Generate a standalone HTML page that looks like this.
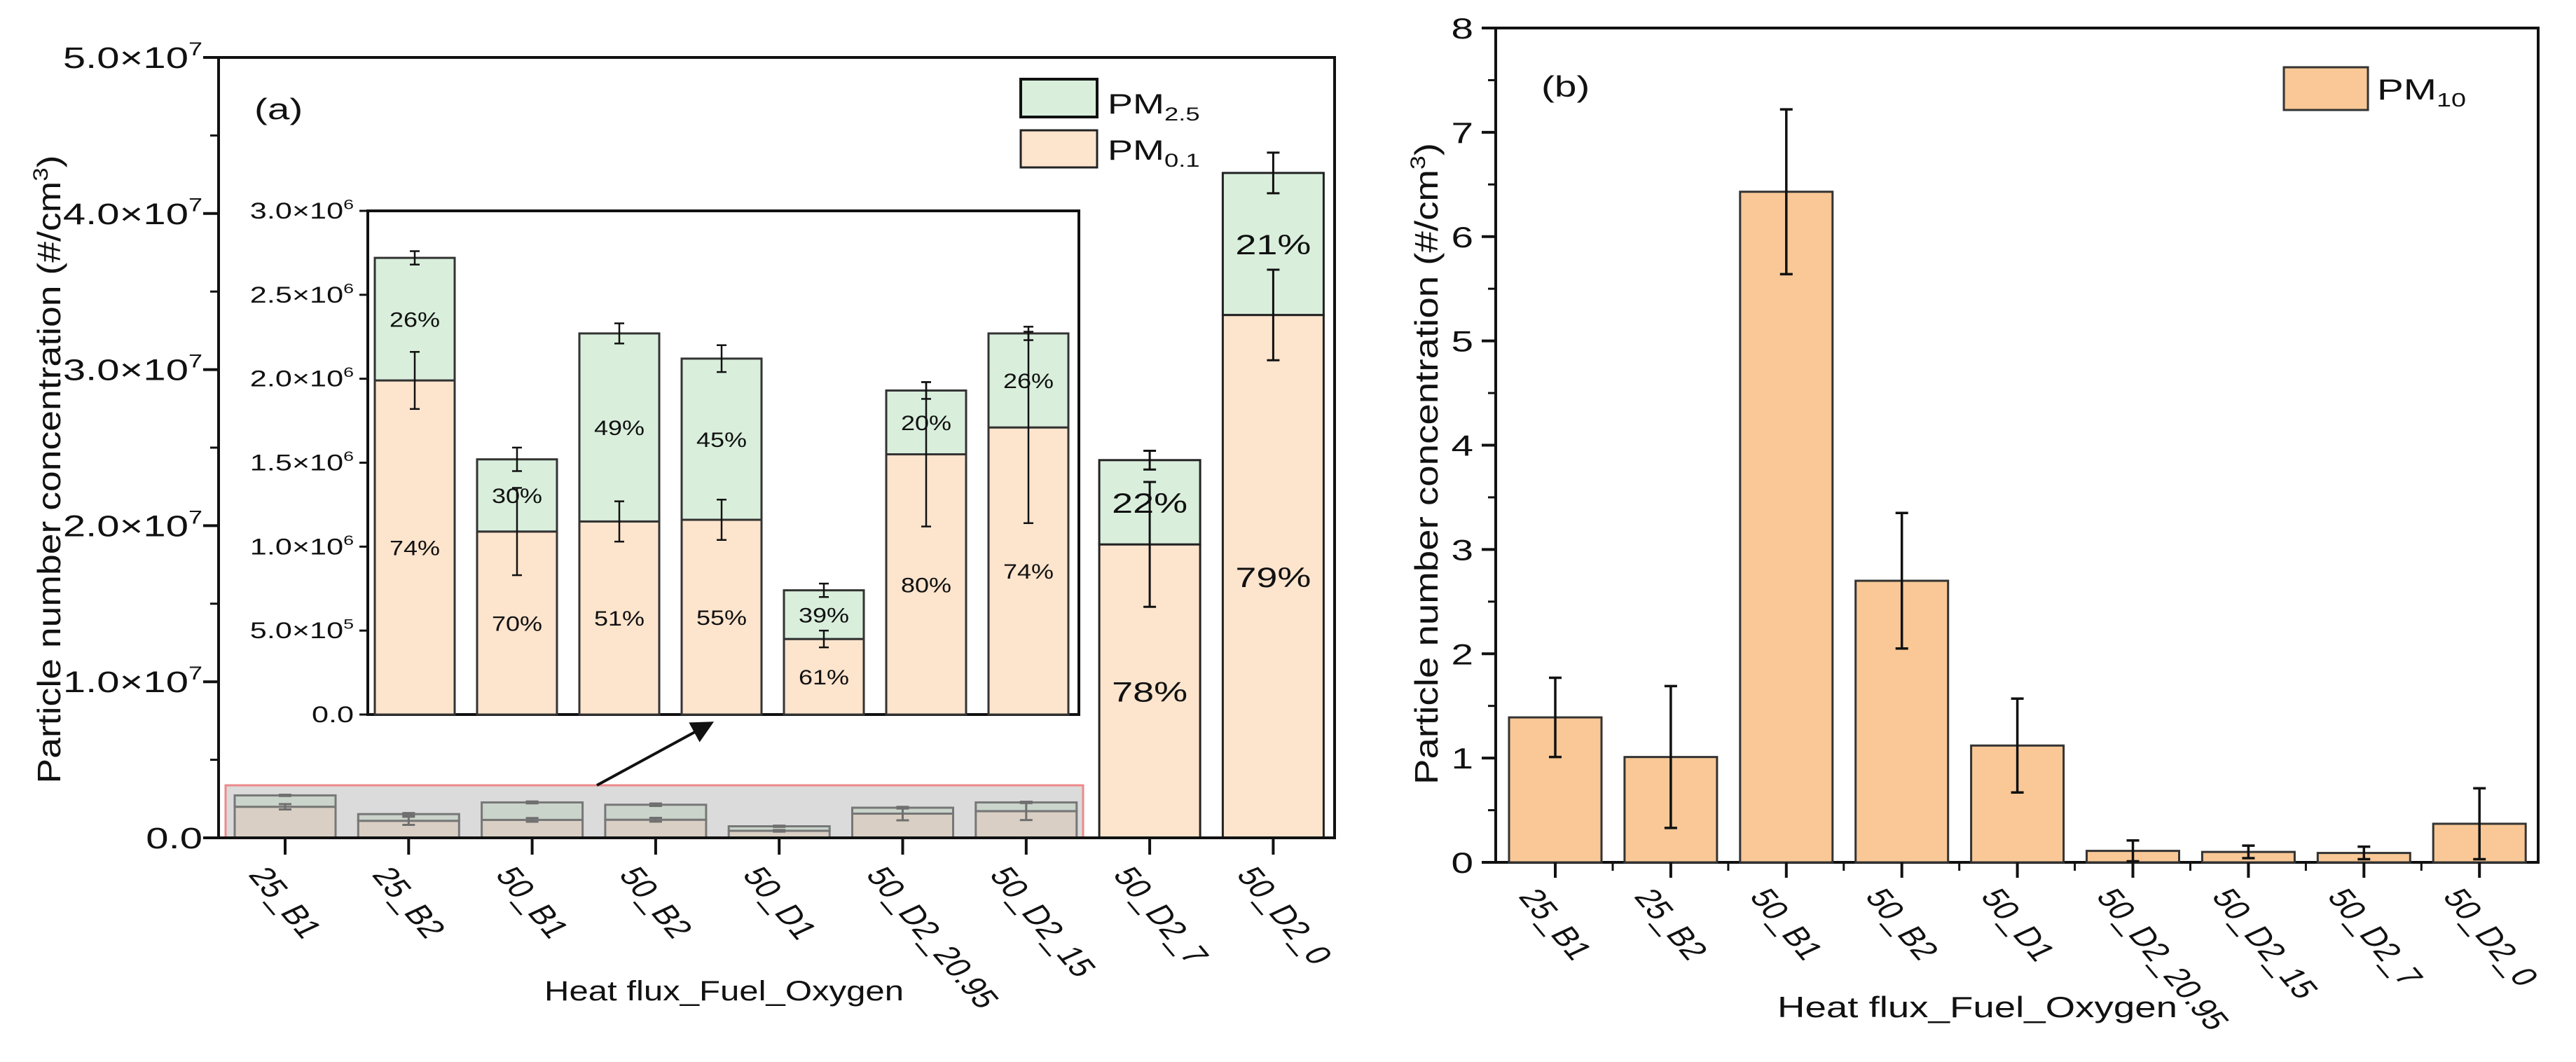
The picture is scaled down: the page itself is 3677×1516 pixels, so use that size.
<!DOCTYPE html>
<html><head><meta charset="utf-8"><style>
html,body{margin:0;padding:0;background:#fff;}
svg text{font-family:"Liberation Sans",Arial,sans-serif;fill:#111;}
</style></head><body>
<svg id="chart" xmlns="http://www.w3.org/2000/svg" width="3677" height="1511" viewBox="0 0 3677 1511">
<defs><marker id="ah" markerWidth="8" markerHeight="8" refX="6" refY="4" orient="auto"><path d="M0,0 L8,4 L0,8 z" fill="#111"/></marker></defs>
<g id="left"></g>
<g id="right"></g>
</svg>
<script>
// ---- Panel (a) main data (units 1e7 #/cm3)
const catsA = ["25_B1","25_B2","50_B1","50_B2","50_D1","50_D2_20.95","50_D2_15","50_D2_7","50_D2_0"];
const pm01A = [0.199,0.109,0.115,0.116,0.045,0.155,0.171,1.88,3.35];
const totalA = [0.272,0.152,0.227,0.212,0.074,0.193,0.227,2.42,4.26];
const pm01ErrA = [0.017,0.026,0.012,0.012,0.005,0.043,0.057,0.40,0.29];
const totalErrA = [0.004,0.007,0.006,0.008,0.004,0.005,0.004,0.06,0.13];
const pctGreenA = ["","","","","","","","22%","21%"];
const pctOrangeA = ["","","","","","","","78%","79%"];
const yTicksA = ["0.0","1.0","2.0","3.0","4.0","5.0"];
// ---- Inset data (units 1e6)
const catsI = ["25_B1","25_B2","50_B1","50_B2","50_D1","50_D2_20.95","50_D2_15"];
const pm01I = [1.99,1.09,1.15,1.16,0.45,1.55,1.71];
const totalI = [2.72,1.52,2.27,2.12,0.74,1.93,2.27];
const pm01ErrI = [0.17,0.26,0.12,0.12,0.05,0.43,0.57];
const totalErrI = [0.04,0.07,0.06,0.08,0.04,0.05,0.04];
const pctGreenI = ["26%","30%","49%","45%","39%","20%","26%"];
const pctOrangeI = ["74%","70%","51%","55%","61%","80%","74%"];
const yTickValsI = [0,0.5,1.0,1.5,2.0,2.5,3.0];
const yTickLabelsI = [["0.0",""],["5.0","5"],["1.0","6"],["1.5","6"],["2.0","6"],["2.5","6"],["3.0","6"]];
// ---- Panel (b) data
const catsB = ["25_B1","25_B2","50_B1","50_B2","50_D1","50_D2_20.95","50_D2_15","50_D2_7","50_D2_0"];
const pm10B = [1.39,1.01,6.43,2.70,1.12,0.11,0.10,0.09,0.37];
const pm10ErrB = [0.38,0.68,0.79,0.65,0.45,0.10,0.06,0.06,0.34];
const yTicksB = [0,1,2,3,4,5,6,7,8];

const NS="http://www.w3.org/2000/svg";
const SX=1.35;
function mk(parent,tag,attrs){const e=document.createElementNS(NS,tag);for(const k in attrs)e.setAttribute(k,attrs[k]);parent.appendChild(e);return e;}
function txt(parent,x,y,s,size,anchor,rot,sx){
  const t=mk(parent,"text",{transform:`translate(${x},${y}) scale(${sx||SX},1) rotate(${rot||0})`,"font-size":size,"text-anchor":anchor||"start"});
  t.textContent=s;return t;
}
function sci(parent,x,y,m,e,size,anchor){
  const t=mk(parent,"text",{transform:`translate(${x},${y}) scale(${SX},1)`,"font-size":size,"text-anchor":anchor});
  t.appendChild(document.createTextNode(m+(e?"\u00d710":"")));
  if(e){const s=mk(t,"tspan",{"font-size":size*0.62,dy:-size*0.42});s.textContent=e;}
  return t;
}
function errbar(g,x,y1,y2,cap,w){
  mk(g,"line",{x1:x,x2:x,y1:y1,y2:y2,stroke:"#111","stroke-width":w});
  mk(g,"line",{x1:x-cap,x2:x+cap,y1:y1,y2:y1,stroke:"#111","stroke-width":w});
  mk(g,"line",{x1:x-cap,x2:x+cap,y1:y2,y2:y2,stroke:"#111","stroke-width":w});
}
const GREEN="#d9efdc", ORANGE="#fde4cd";
const ROT=58;

// ===== Panel A
const L=document.getElementById("left");
const ax0=312, ax1=1905, ayTop=82, ayBot=1196;
const yA=v=>ayBot-v*(ayBot-ayTop)/5;
const xA=i=>407+i*176.3;
const bwA=144;
mk(L,"rect",{x:ax0,y:ayTop,width:ax1-ax0,height:ayBot-ayTop,fill:"none",stroke:"#111","stroke-width":4});
catsA.forEach((c,i)=>{
  const g=mk(L,"g",{});
  
  
  const x=xA(i);
  const r1=mk(g,"rect",{x:x-bwA/2,y:yA(pm01A[i]),width:bwA,height:yA(0)-yA(pm01A[i]),fill:ORANGE,stroke:"#222","stroke-width":3});
  
  
  const r2=mk(g,"rect",{x:x-bwA/2,y:yA(totalA[i]),width:bwA,height:yA(pm01A[i])-yA(totalA[i]),fill:GREEN,stroke:"#222","stroke-width":3});
  
  
  errbar(g,x,yA(totalA[i]+totalErrA[i]),yA(totalA[i]-totalErrA[i]),9,3);
  errbar(g,x,yA(pm01A[i]+pm01ErrA[i]),yA(pm01A[i]-pm01ErrA[i]),9,3);
  if(pctGreenA[i]){
    txt(g,x,(yA(totalA[i])+yA(pm01A[i]))/2+15,pctGreenA[i],40,"middle");
    txt(g,x,(yA(pm01A[i])+yA(0))/2+15,pctOrangeA[i],40,"middle");
  }
  mk(L,"line",{x1:x,x2:x,y1:ayBot,y2:ayBot+24,stroke:"#111","stroke-width":4});
  const lt=txt(L,x-22,ayBot+38,c,38,"start",ROT);
  lt.setAttribute("dominant-baseline","hanging");
  
  
});
// gray highlight box
const hl=mk(L,"rect",{x:322,y:1121,width:1224,height:75,fill:"rgba(190,190,190,0.55)",stroke:"#ee8a8a","stroke-width":3});


// y ticks
yTicksA.forEach((s,i)=>{
  const y=yA(i);
  mk(L,"line",{x1:ax0-22,x2:ax0,y1:y,y2:y,stroke:"#111","stroke-width":4});
  if(i<5) mk(L,"line",{x1:ax0-12,x2:ax0,y1:yA(i+0.5),y2:yA(i+0.5),stroke:"#111","stroke-width":3});
  const t=sci(L,289,y+15,s,i==0?"":"7",43,"end");
  
  
});
mk(L,"line",{x1:ax0,x2:ax1,y1:ayBot,y2:ayBot,stroke:"#111","stroke-width":4});
// titles
let t=mk(L,"text",{x:777,y:1428,"font-size":40,textLength:513,lengthAdjust:"spacingAndGlyphs"});t.textContent="Heat flux_Fuel_Oxygen";

t=mk(L,"text",{transform:"translate(86,670) rotate(-90)","font-size":46,"text-anchor":"middle",textLength:897,lengthAdjust:"spacingAndGlyphs"});
t.innerHTML='Particle number concentration (#/cm<tspan font-size="30" dy="-18">3</tspan><tspan dy="18">)</tspan>';

t=txt(L,363,170,"(a)",42,"start");
// legend
const lg=mk(L,"g",{});
mk(lg,"rect",{x:1457,y:113,width:109,height:54,fill:GREEN,stroke:"#111","stroke-width":4});
mk(lg,"rect",{x:1457,y:186,width:109,height:53,fill:ORANGE,stroke:"#222","stroke-width":3});
t=mk(lg,"text",{transform:"translate(1581,162) scale(1.35,1)","font-size":40});t.innerHTML='PM<tspan font-size="27" dy="10">2.5</tspan>';
t=mk(lg,"text",{transform:"translate(1581,228) scale(1.35,1)","font-size":40});t.innerHTML='PM<tspan font-size="27" dy="10">0.1</tspan>';
// arrow
const ar=mk(L,"line",{x1:852,y1:1121,x2:1012,y2:1034,stroke:"#111","stroke-width":4,"marker-end":"url(#ah)"});


// ===== Inset
const I=mk(L,"g",{});
const ix0=525, ix1=1540, iyTop=301, iyBot=1020;
const yI=v=>iyBot-v*(iyBot-iyTop)/3;
const xI=i=>592+i*146;
const bwI=114;
mk(I,"rect",{x:ix0,y:iyTop,width:ix1-ix0,height:iyBot-iyTop,fill:"#fff",stroke:"#111","stroke-width":4});
catsI.forEach((c,i)=>{
  const x=xI(i);
  const r1=mk(I,"rect",{x:x-bwI/2,y:yI(pm01I[i]),width:bwI,height:yI(0)-yI(pm01I[i]),fill:ORANGE,stroke:"#333","stroke-width":3});
  
  
  const r2=mk(I,"rect",{x:x-bwI/2,y:yI(totalI[i]),width:bwI,height:yI(pm01I[i])-yI(totalI[i]),fill:GREEN,stroke:"#333","stroke-width":3});
  
  
  errbar(I,x,yI(totalI[i]+totalErrI[i]),yI(totalI[i]-totalErrI[i]),7,2.5);
  errbar(I,x,yI(pm01I[i]+pm01ErrI[i]),yI(pm01I[i]-pm01ErrI[i]),7,2.5);
  txt(I,x,(yI(totalI[i])+yI(pm01I[i]))/2+11,pctGreenI[i],30,"middle",0,1.2);
  txt(I,x,(yI(pm01I[i])+yI(0))/2+11,pctOrangeI[i],30,"middle",0,1.2);
});
yTickValsI.forEach((v,i)=>{
  const y=yI(v);
  mk(I,"line",{x1:ix0-12,x2:ix0,y1:y,y2:y,stroke:"#111","stroke-width":3});
  const tl=sci(I,505,y+11,yTickLabelsI[i][0],yTickLabelsI[i][1],32,"end");
  
  
});

// ===== Panel B
const R=document.getElementById("right");
const bx0=2135, bx1=3623, byTop=40, byBot=1231;
const yB=v=>byBot-v*(byBot-byTop)/8;
const xB=i=>2220+i*164.9;
const bwB=132;
mk(R,"rect",{x:bx0,y:byTop,width:bx1-bx0,height:byBot-byTop,fill:"none",stroke:"#111","stroke-width":4});
catsB.forEach((c,i)=>{
  const x=xB(i);
  const r=mk(R,"rect",{x:x-bwB/2,y:yB(pm10B[i]),width:bwB,height:yB(0)-yB(pm10B[i]),fill:"#f9c896",stroke:"#333","stroke-width":3});
  
  
  errbar(R,x,yB(pm10B[i]+pm10ErrB[i]),yB(Math.max(0,pm10B[i]-pm10ErrB[i])),9,3.5);
  mk(R,"line",{x1:x,x2:x,y1:byBot,y2:byBot+22,stroke:"#111","stroke-width":4});
  if(i<8) mk(R,"line",{x1:x+82,x2:x+82,y1:byBot,y2:byBot+12,stroke:"#111","stroke-width":3});
  const lt=txt(R,x-22,byBot+34,c,38,"start",ROT);
  lt.setAttribute("dominant-baseline","hanging");
  
  
});
yTicksB.forEach((v,i)=>{
  const y=yB(v);
  mk(R,"line",{x1:bx0-20,x2:bx0,y1:y,y2:y,stroke:"#111","stroke-width":4});
  if(i<8) mk(R,"line",{x1:bx0-11,x2:bx0,y1:yB(v+0.5),y2:yB(v+0.5),stroke:"#111","stroke-width":3});
  const tl=txt(R,2103,y+15,String(v),42,"end");
  
  
});
t=mk(R,"text",{x:2537,y:1452,"font-size":42,textLength:571,lengthAdjust:"spacingAndGlyphs"});t.textContent="Heat flux_Fuel_Oxygen";

t=mk(R,"text",{transform:"translate(2052,662) rotate(-90)","font-size":46,"text-anchor":"middle",textLength:916,lengthAdjust:"spacingAndGlyphs"});
t.innerHTML='Particle number concentration (#/cm<tspan font-size="30" dy="-18">3</tspan><tspan dy="18">)</tspan>';

t=txt(R,2200,138,"(b)",42,"start");
const lb=mk(R,"g",{});
mk(lb,"rect",{x:3260,y:96,width:120,height:61,fill:"#f9c896",stroke:"#333","stroke-width":3});
t=mk(lb,"text",{transform:"translate(3393,142) scale(1.35,1)","font-size":42});t.innerHTML='PM<tspan font-size="28" dy="10">10</tspan>';
</script>
</body></html>
